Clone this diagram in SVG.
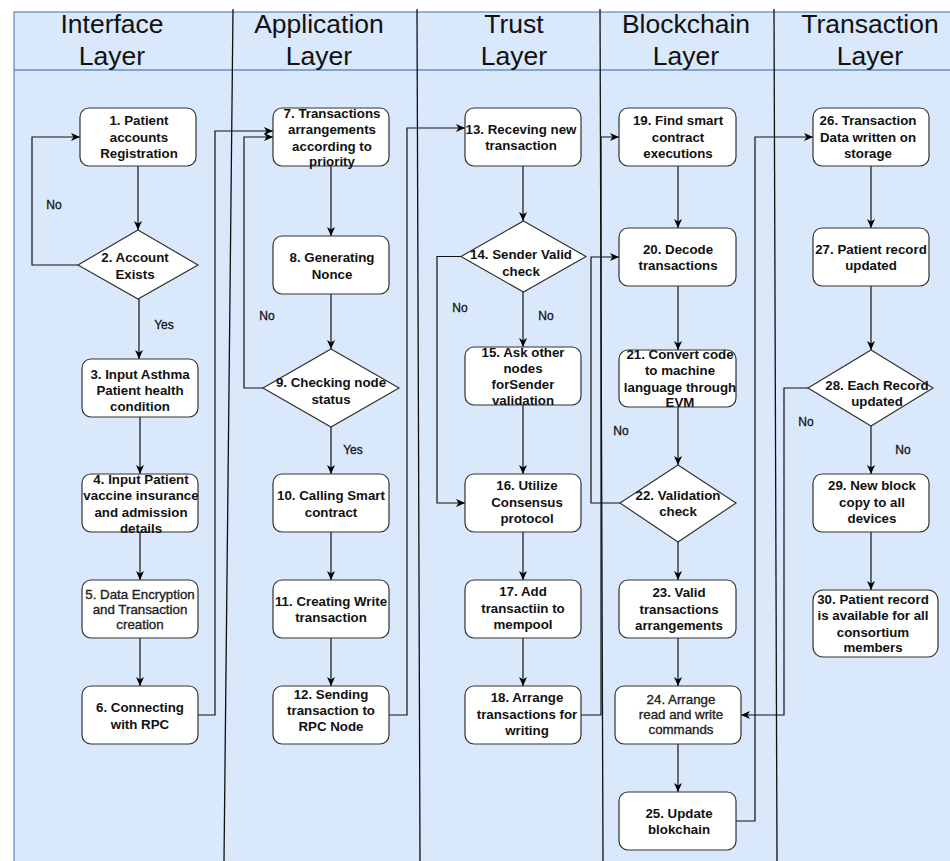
<svg xmlns="http://www.w3.org/2000/svg" width="950" height="861" viewBox="0 0 950 861">
<defs>
<marker id="arr" markerUnits="userSpaceOnUse" markerWidth="10" markerHeight="10" refX="9" refY="4" orient="auto">
<path d="M0,0 L9,4 L0,8 L2.5,4 Z" fill="#000"/>
</marker>
<style>
.bg{fill:#dae8fc;stroke:#6c8ebf;stroke-width:1.3}
.sep{stroke:#111;stroke-width:1.3;fill:none}
.hd{font-family:"Liberation Sans",Arial,sans-serif;font-size:26.5px;fill:#111;text-anchor:middle}
.box{fill:#fff;stroke:#333;stroke-width:1.2}
.t{font-family:"Liberation Sans",Arial,sans-serif;font-size:13.3px;font-weight:bold;fill:#111;text-anchor:middle}
.lt{font-family:"Liberation Sans",Arial,sans-serif;font-size:13.3px;fill:#222;stroke:#222;stroke-width:0.35;text-anchor:middle}
.lb{font-family:"Liberation Sans",Arial,sans-serif;font-size:12px;fill:#111;stroke:#111;stroke-width:0.3;text-anchor:middle}
.c{fill:none;stroke:#111;stroke-width:1.2;marker-end:url(#arr)}
</style>
</defs>
<rect class="bg" x="14" y="12" width="945" height="860"/>
<line x1="14" y1="70" x2="950" y2="70" stroke="#6c8ebf" stroke-width="1.3"/>
<g id="separators">
<line class="sep" x1="233" y1="9" x2="224" y2="861"/>
<line class="sep" x1="417" y1="9" x2="420" y2="861"/>
<line class="sep" x1="600" y1="9" x2="603" y2="861"/>
<line class="sep" x1="774" y1="9" x2="777" y2="861"/>
</g>
<g id="headers">
<text class="hd" x="112" y="33">Interface</text><text class="hd" x="112" y="65">Layer</text>
<text class="hd" x="319" y="33">Application</text><text class="hd" x="319" y="65">Layer</text>
<text class="hd" x="514" y="33">Trust</text><text class="hd" x="514" y="65">Layer</text>
<text class="hd" x="686" y="33">Blockchain</text><text class="hd" x="686" y="65">Layer</text>
<text class="hd" x="870" y="33">Transaction</text><text class="hd" x="870" y="65">Layer</text>
</g>
<g id="connectors">
<path class="c" d="M138,166 V230"/>
<path class="c" d="M78,265 H32 V137 H80"/>
<path class="c" d="M139,299 V359"/>
<path class="c" d="M140,417 V474"/>
<path class="c" d="M140,532 V580"/>
<path class="c" d="M140,638 V686"/>
<path class="c" d="M198,715 H215 V131 H273"/>
<path class="c" d="M263,388 H244 V137 H273"/>
<path class="c" d="M331,166 V236"/>
<path class="c" d="M331,294 V349"/>
<path class="c" d="M331,427 V474"/>
<path class="c" d="M331,532 V580"/>
<path class="c" d="M331,638 V686"/>
<path class="c" d="M389,715 H407 V128 H465"/>
<path class="c" d="M523,166 V221"/>
<path class="c" d="M461,256.5 H437 V503 H465"/>
<path class="c" d="M523,292 V347"/>
<path class="c" d="M523,405 V474"/>
<path class="c" d="M523,532 V580"/>
<path class="c" d="M523,638 V686"/>
<path class="c" d="M581,715 H601 V137 H619"/>
<path class="c" d="M678,166 V228"/>
<path class="c" d="M620,503 H591 V257 H619"/>
<path class="c" d="M678,286 V350"/>
<path class="c" d="M678,407 V465"/>
<path class="c" d="M678,542 V580"/>
<path class="c" d="M678,638 V686"/>
<path class="c" d="M678,744 V792"/>
<path class="c" d="M736,821 H755 V137 H813"/>
<path class="c" d="M871,166 V228"/>
<path class="c" d="M871,286 V350"/>
<path class="c" d="M808,388 H784 V715 H741"/>
<path class="c" d="M871,426 V474"/>
<path class="c" d="M871,532 V590"/>
<text class="lb" x="54" y="209">No</text>
<text class="lb" x="164" y="329">Yes</text>
<text class="lb" x="267" y="320">No</text>
<text class="lb" x="353" y="454">Yes</text>
<text class="lb" x="460" y="312">No</text>
<text class="lb" x="546" y="320">No</text>
<text class="lb" x="621" y="435">No</text>
<text class="lb" x="806" y="426">No</text>
<text class="lb" x="903" y="454">No</text>
</g>
<g id="n1"><rect class="box" x="80" y="108" width="116" height="58" rx="9"/><text class="t"><tspan x="139" y="125">1. Patient</tspan><tspan x="139" y="141.5">accounts</tspan><tspan x="139" y="158">Registration</tspan></text></g>
<g id="n2"><polygon class="box" points="138,230 198,265 138,299 78,265"/><text class="t"><tspan x="135" y="262">2. Account</tspan><tspan x="135" y="278.5">Exists</tspan></text></g>
<g id="n3"><rect class="box" x="82" y="359" width="116" height="58" rx="9"/><text class="t"><tspan x="140" y="378.5">3. Input Asthma</tspan><tspan x="140" y="395">Patient health</tspan><tspan x="140" y="411">condition</tspan></text></g>
<g id="n4"><rect class="box" x="82" y="474" width="116" height="58" rx="9"/><text class="t"><tspan x="141" y="484">4. Input Patient</tspan><tspan x="141" y="500">vaccine insurance</tspan><tspan x="141" y="516.5">and admission</tspan><tspan x="141" y="532.5">details</tspan></text></g>
<g id="n5"><rect class="box" x="82" y="580" width="116" height="58" rx="9"/><text class="lt"><tspan x="140" y="598.5">5. Data Encryption</tspan><tspan x="140" y="613.5">and Transaction</tspan><tspan x="140" y="628.5">creation</tspan></text></g>
<g id="n6"><rect class="box" x="82" y="686" width="116" height="58" rx="9"/><text class="t"><tspan x="140" y="712">6. Connecting</tspan><tspan x="140" y="728.5">with RPC</tspan></text></g>
<g id="n7"><rect class="box" x="273" y="108" width="116" height="58" rx="9"/><text class="t"><tspan x="332" y="117.5">7. Transactions</tspan><tspan x="332" y="134">arrangements</tspan><tspan x="332" y="150.5">according to</tspan><tspan x="332" y="166">priority</tspan></text></g>
<g id="n8"><rect class="box" x="273" y="236" width="116" height="58" rx="9"/><text class="t"><tspan x="332" y="262">8. Generating</tspan><tspan x="332" y="278.5">Nonce</tspan></text></g>
<g id="n9"><polygon class="box" points="331,349 399,388 331,427 263,388"/><text class="t"><tspan x="331" y="387">9. Checking node</tspan><tspan x="331" y="404">status</tspan></text></g>
<g id="n10"><rect class="box" x="273" y="474" width="116" height="58" rx="9"/><text class="t"><tspan x="331" y="500">10. Calling Smart</tspan><tspan x="331" y="516.5">contract</tspan></text></g>
<g id="n11"><rect class="box" x="273" y="580" width="116" height="58" rx="9"/><text class="t"><tspan x="331" y="606">11. Creating Write</tspan><tspan x="331" y="622">transaction</tspan></text></g>
<g id="n12"><rect class="box" x="273" y="686" width="116" height="58" rx="9"/><text class="t"><tspan x="331" y="698.5">12. Sending</tspan><tspan x="331" y="715">transaction to</tspan><tspan x="331" y="731">RPC Node</tspan></text></g>
<g id="n13"><rect class="box" x="465" y="108" width="116" height="58" rx="9"/><text class="t"><tspan x="521" y="134">13. Receving new</tspan><tspan x="521" y="150">transaction</tspan></text></g>
<g id="n14"><polygon class="box" points="523.5,221 586,256.5 523.5,292 461,256.5"/><text class="t"><tspan x="521" y="259">14. Sender Valid</tspan><tspan x="521" y="275.5">check</tspan></text></g>
<g id="n15"><rect class="box" x="465" y="347" width="116" height="58" rx="9"/><text class="t"><tspan x="523" y="356.5">15. Ask other</tspan><tspan x="523" y="373">nodes</tspan><tspan x="523" y="389">forSender</tspan><tspan x="523" y="404.5">validation</tspan></text></g>
<g id="n16"><rect class="box" x="465" y="474" width="116" height="58" rx="9"/><text class="t"><tspan x="527" y="490">16. Utilize</tspan><tspan x="527" y="507">Consensus</tspan><tspan x="527" y="523">protocol</tspan></text></g>
<g id="n17"><rect class="box" x="465" y="580" width="116" height="58" rx="9"/><text class="t"><tspan x="523" y="596">17. Add</tspan><tspan x="523" y="613">transactiin to</tspan><tspan x="523" y="629">mempool</tspan></text></g>
<g id="n18"><rect class="box" x="465" y="686" width="116" height="58" rx="9"/><text class="t"><tspan x="527" y="702">18. Arrange</tspan><tspan x="527" y="719">transactions for</tspan><tspan x="527" y="734.5">writing</tspan></text></g>
<g id="n19"><rect class="box" x="619" y="108" width="117" height="58" rx="9"/><text class="t"><tspan x="678" y="125">19. Find smart</tspan><tspan x="678" y="141.5">contract</tspan><tspan x="678" y="158">executions</tspan></text></g>
<g id="n20"><rect class="box" x="619" y="228" width="117" height="58" rx="9"/><text class="t"><tspan x="678" y="253.5">20. Decode</tspan><tspan x="678" y="270">transactions</tspan></text></g>
<g id="n21"><rect class="box" x="619" y="350" width="117" height="57" rx="9"/><text class="t"><tspan x="680" y="358.5">21. Convert code</tspan><tspan x="680" y="375">to machine</tspan><tspan x="680" y="391.5">language through</tspan><tspan x="680" y="407">EVM</tspan></text></g>
<g id="n22"><polygon class="box" points="678,465 736,503 678,542 620,503"/><text class="t"><tspan x="678" y="500">22. Validation</tspan><tspan x="678" y="516">check</tspan></text></g>
<g id="n23"><rect class="box" x="619" y="580" width="117" height="58" rx="9"/><text class="t"><tspan x="679" y="597">23. Valid</tspan><tspan x="679" y="614">transactions</tspan><tspan x="679" y="630">arrangements</tspan></text></g>
<g id="n24"><rect class="box" x="615" y="686" width="126" height="58" rx="9"/><text class="lt"><tspan x="681" y="703.5">24. Arrange</tspan><tspan x="681" y="719">read and write</tspan><tspan x="681" y="733.5">commands</tspan></text></g>
<g id="n25"><rect class="box" x="619" y="792" width="117" height="58" rx="9"/><text class="t"><tspan x="679" y="818">25. Update</tspan><tspan x="679" y="834">blokchain</tspan></text></g>
<g id="n26"><rect class="box" x="813" y="108" width="116" height="58" rx="9"/><text class="t"><tspan x="868" y="125">26. Transaction</tspan><tspan x="868" y="141.5">Data written on</tspan><tspan x="868" y="158">storage</tspan></text></g>
<g id="n27"><rect class="box" x="813" y="228" width="116" height="58" rx="9"/><text class="t"><tspan x="871" y="253.5">27. Patient record</tspan><tspan x="871" y="270">updated</tspan></text></g>
<g id="n28"><polygon class="box" points="871,350 933,388 871,426 808,388"/><text class="t"><tspan x="877" y="389.5">28. Each Record</tspan><tspan x="877" y="405.5">updated</tspan></text></g>
<g id="n29"><rect class="box" x="813" y="474" width="116" height="58" rx="9"/><text class="t"><tspan x="872" y="490">29. New block</tspan><tspan x="872" y="507">copy to all</tspan><tspan x="872" y="523">devices</tspan></text></g>
<g id="n30"><rect class="box" x="813" y="590" width="125" height="67" rx="10"/><text class="t"><tspan x="873" y="604">30. Patient record</tspan><tspan x="873" y="620">is available for all</tspan><tspan x="873" y="637">consortium</tspan><tspan x="873" y="652">members</tspan></text></g>
</svg>
